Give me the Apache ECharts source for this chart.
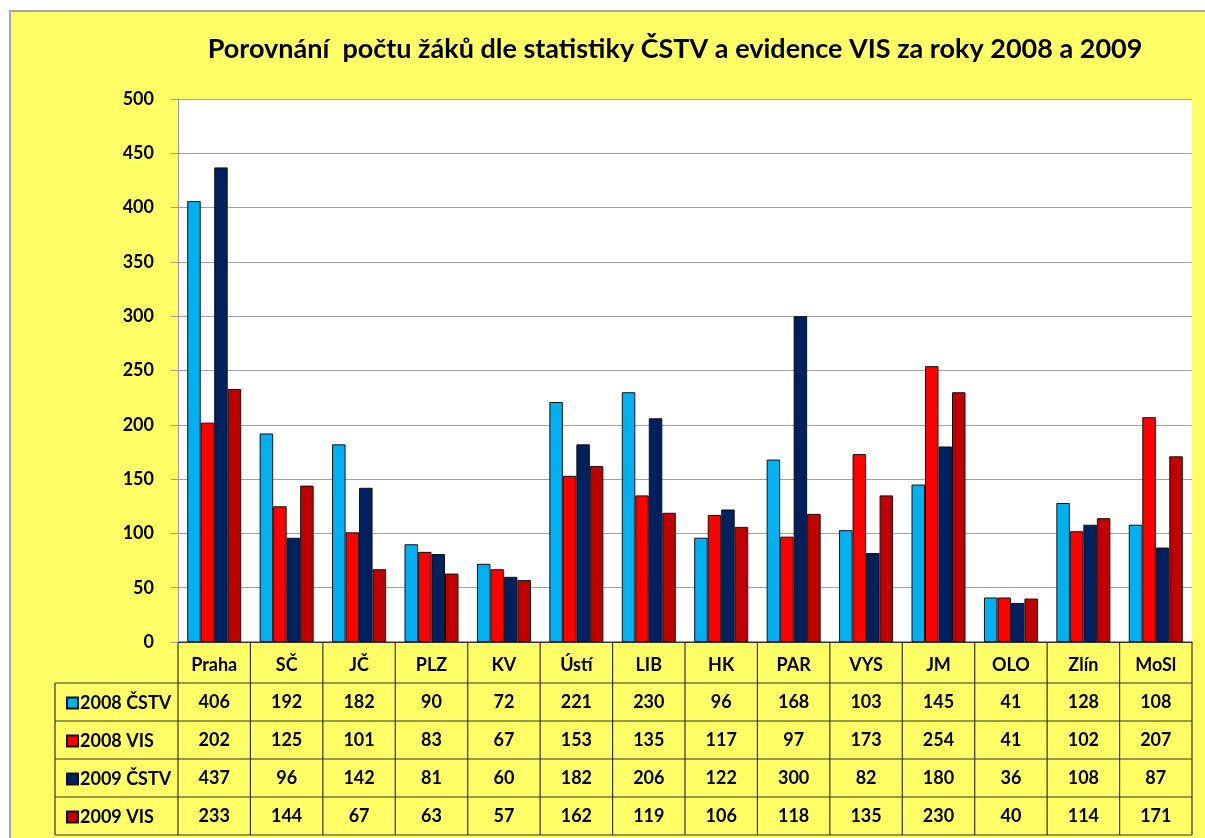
<!DOCTYPE html>
<html>
<head>
<meta charset="utf-8">
<script src="https://cdn.jsdelivr.net/npm/echarts@6/dist/echarts.min.js"></script>
<style>
  html, body { margin: 0; padding: 0; background: #ffffff; }
  #frame {
    position: absolute; left: 9px; top: 10px; width: 1196px; height: 828px;
    background: #FFFF66; border-top: 2px solid #A6A6A6; border-left: 2px solid #A6A6A6;
    box-sizing: border-box;
  }
  #main { position: absolute; left: 0; top: 0; width: 1205px; height: 838px; }
</style>
</head>
<body>
<div id="frame"></div>
<div id="main"></div>
<script>
// kraje
const categories = ['Praha', 'SČ', 'JČ', 'PLZ', 'KV', 'Ústí', 'LIB', 'HK', 'PAR', 'VYS', 'JM', 'OLO', 'Zlín', 'MoSl'];
const seriesNames = ['2008 ČSTV', '2008 VIS', '2009 ČSTV', '2009 VIS'];
const seriesColors = ['#00B0F0', '#FF0000', '#002060', '#C00000'];

const cstv2008 = [406, 192, 182, 90, 72, 221, 230, 96, 168, 103, 145, 41, 128, 108];
const vis2008 = [202, 125, 101, 83, 67, 153, 135, 117, 97, 173, 254, 41, 102, 207];
const cstv2009 = [437, 96, 142, 81, 60, 182, 206, 122, 300, 82, 180, 36, 108, 87];
const vis2009 = [233, 144, 67, 63, 57, 162, 119, 106, 118, 135, 230, 40, 114, 171];

const yTicks = { min: 0, max: 500, interval: 50 };

const seriesData = [cstv2008, vis2008, cstv2009, vis2009];

// geometry of plot + table
const gridLeft = 178, gridTop = 99, gridRight = 1192, gridBottom = 642;
const catRowBottom = 683, rowH = 38, legendLeft = 55;
const FONT = 'Lato, "Open Sans", sans-serif';

let chart = echarts.init(document.getElementById('main'), null, { renderer: 'canvas' });

let option = {
    backgroundColor: 'transparent',
    animation: false,
    textStyle: { fontFamily: FONT },
    title: {
        text: 'Porovnání  počtu žáků dle statistiky ČSTV a evidence VIS za roky 2008 a 2009',
        left: 670,
        textAlign: 'center',
        top: 31,
        textStyle: { fontFamily: FONT, fontSize: 27, fontWeight: 'bold', color: '#000' }
    },
    legend: {
        orient: 'vertical',
        left: 61,
        top: 688,
        itemWidth: 11,
        itemHeight: 11,
        itemGap: 18,
        icon: 'rect',
        data: seriesNames,
        textStyle: { fontFamily: FONT, fontSize: 18, fontWeight: 'bold', color: '#000', lineHeight: 20, padding: [0, 0, 0, -3] }
    },
    grid: {
        left: gridLeft,
        top: gridTop,
        right: 1205 - gridRight,
        bottom: 838 - gridBottom,
        show: true,
        backgroundColor: '#ffffff',
        borderWidth: 0
    },
    xAxis: {
        type: 'category',
        data: categories,
        axisLine: { show: true, lineStyle: { color: '#333', width: 1 } },
        axisTick: { show: false },
        axisLabel: { interval: 0, margin: 14, fontSize: 18, fontWeight: 'bold', color: '#000', fontFamily: FONT }
    },
    yAxis: {
        type: 'value',
        min: yTicks.min,
        max: yTicks.max,
        interval: yTicks.interval,
        axisLine: { show: true, lineStyle: { color: '#999' } },
        axisTick: { show: true, length: 7, lineStyle: { color: '#999' } },
        axisLabel: { margin: 24, fontSize: 18, fontWeight: 'bold', color: '#000', fontFamily: FONT },
        splitLine: { lineStyle: { color: '#A0A0A0', width: 1 } }
    },
    series: seriesNames.map((name, i) => ({
        name: name,
        type: 'bar',
        data: seriesData[i],
        barWidth: 13.5,
        barGap: '0%',
        itemStyle: { color: seriesColors[i], borderColor: '#111', borderWidth: 1 }
    }))
};

chart.setOption(option);

// data table under the plot
function buildTable() {
    let els = [];
    let tableBottom = catRowBottom + rowH * seriesNames.length;
    let lineStyle = { stroke: '#333', lineWidth: 1.2 };

    // horizontal lines
    els.push({ type: 'line', shape: { x1: gridLeft, y1: gridBottom, x2: gridRight, y2: gridBottom }, style: lineStyle });
    for (let r = 0; r <= seriesNames.length; r++) {
        let y = catRowBottom + r * rowH;
        els.push({ type: 'line', shape: { x1: legendLeft, y1: y, x2: gridRight, y2: y }, style: lineStyle });
    }
    // vertical lines
    let colW = (gridRight - gridLeft) / categories.length;
    for (let c = 0; c <= categories.length; c++) {
        let x = gridLeft + c * colW;
        els.push({ type: 'line', shape: { x1: x, y1: gridBottom, x2: x, y2: tableBottom }, style: lineStyle });
    }
    els.push({ type: 'line', shape: { x1: legendLeft, y1: catRowBottom, x2: legendLeft, y2: tableBottom }, style: lineStyle });

    // values
    seriesData.forEach((arr, r) => {
        let y = catRowBottom + r * rowH + rowH / 2;
        arr.forEach((v, c) => {
            let px = chart.convertToPixel({ xAxisIndex: 0 }, categories[c]);
            els.push({
                type: 'text', x: px, y: y,
                style: { text: String(v), fill: '#000', font: 'bold 18px ' + FONT, align: 'center', verticalAlign: 'middle' }
            });
        });
    });
    chart.setOption({ graphic: { elements: els } });
}

buildTable();
</script>
</body>
</html>
